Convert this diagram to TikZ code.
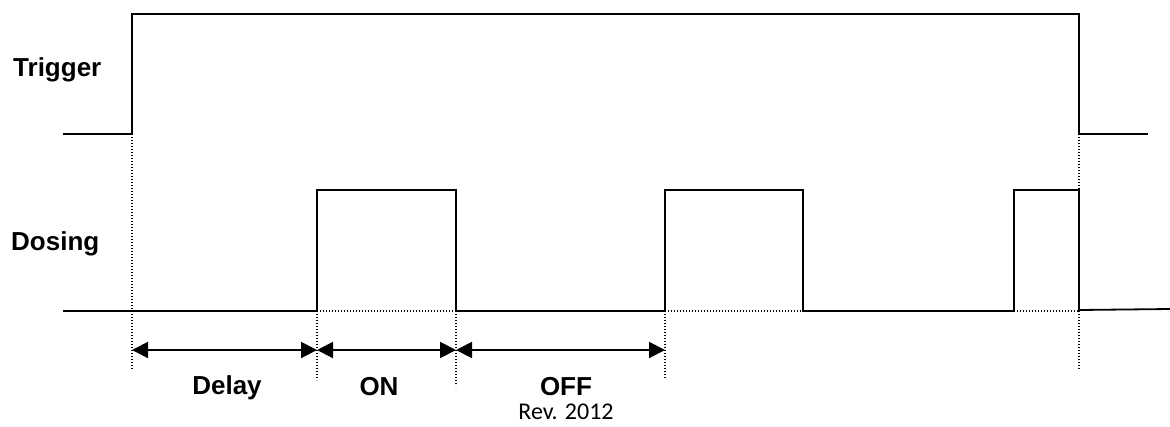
\documentclass[tikz,border=0pt]{standalone}
\usepackage{fontspec}
\setmainfont{Liberation Sans}
\newfontfamily\revfont{Carlito}
\usetikzlibrary{arrows.meta}
\begin{document}
\begin{tikzpicture}[x=1pt,y=-1pt,
  wave/.style={line width=1.8pt, line join=miter},
  guide/.style={line width=1.2pt, dash pattern=on 1.2pt off 1.8pt},
  span/.style={line width=2pt, {Triangle[length=16pt,width=16pt]}-{Triangle[length=16pt,width=16pt]}},
  lbl/.style={font=\fontsize{26}{30}\selectfont\bfseries, inner sep=0pt},
  rev/.style={font=\revfont\fontsize{24}{28}\selectfont, inner sep=0pt}]
\useasboundingbox (0,0) rectangle (1170,426);
% labels
\node[lbl, anchor=base west] (trig) at (13,76) {Trigger};
\node[lbl, anchor=base west] (dos) at (11,250) {Dosing};
% guide lines
\draw[guide] (132,134) -- (132,370);
\draw[guide] (317,311) -- (317,380);
\draw[guide] (456,311) -- (456,386);
\draw[guide] (665,311) -- (665,378);
\draw[guide] (1079,134) -- (1079,370);
\draw[guide] (317,311) -- (456,311);
\draw[guide] (665,311) -- (803,311);
\draw[guide] (1014,311) -- (1079,311);
% trigger wave
\draw[wave] (63,134) -- (132,134) -- (132,14) -- (1079,14) -- (1079,134) -- (1148,134);
% dosing wave
\draw[wave] (63,311) -- (317,311) -- (317,190) -- (456,190) -- (456,311) -- (665,311) -- (665,190) -- (803,190) -- (803,311) -- (1014,311) -- (1014,190) -- (1079,190) -- (1079,310) -- (1170,309);
% spans
\coordinate (t0) at (132,350);
\coordinate (t1) at (317,350);
\coordinate (t2) at (456,350);
\coordinate (t3) at (665,350);
\draw[span] (t0) -- (t1);
\draw[span] (t1) -- (t2);
\draw[span] (t2) -- (t3);
\node[lbl, anchor=base] (delay) at (227,394) {Delay};
\node[lbl, anchor=base] (on) at (379,395) {ON};
\node[lbl, anchor=base] (off) at (566,395) {OFF};
\node[rev, anchor=base] (revn) at (566,419) {Rev. 2012};
\end{tikzpicture}
\end{document}
